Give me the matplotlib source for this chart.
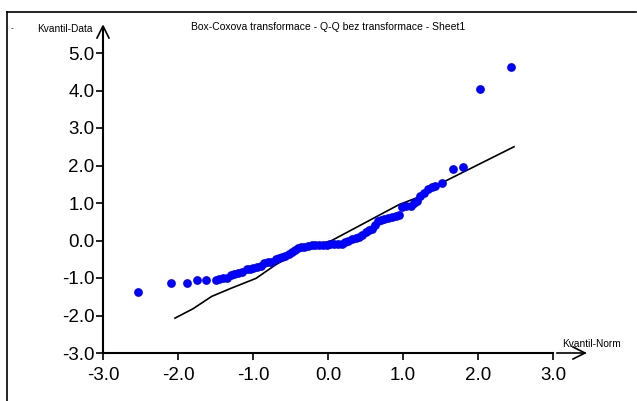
import matplotlib
matplotlib.use('Agg')
import matplotlib.pyplot as plt
from matplotlib.lines import Line2D

# === DATOS ===
kvantil_norm = [-2.53, -2.10, -1.88, -1.75, -1.63, -1.50, -1.45, -1.40, -1.35, -1.29,
                -1.25, -1.20, -1.15, -1.08, -1.04, -1.00, -0.95, -0.90, -0.85, -0.80,
                -0.76, -0.70, -0.65, -0.61, -0.57, -0.52, -0.48, -0.44, -0.40, -0.36,
                -0.32, -0.27, -0.22, -0.17, -0.12, -0.07, -0.02, 0.03, 0.08, 0.13,
                0.18, 0.23, 0.27, 0.32, 0.37, 0.41, 0.45, 0.50, 0.54, 0.58,
                0.62, 0.66, 0.70, 0.75, 0.80, 0.85, 0.90, 0.95, 0.99, 1.04,
                1.10, 1.14, 1.18, 1.23, 1.28, 1.33, 1.38, 1.43, 1.52, 1.67,
                1.80, 2.02, 2.44]
kvantil_data = [-1.38, -1.12, -1.12, -1.06, -1.06, -1.05, -1.02, -1.00, -1.00, -0.93,
                -0.90, -0.87, -0.85, -0.75, -0.75, -0.74, -0.70, -0.68, -0.60, -0.58,
                -0.57, -0.50, -0.46, -0.43, -0.40, -0.35, -0.31, -0.25, -0.21, -0.18,
                -0.16, -0.14, -0.13, -0.12, -0.12, -0.12, -0.11, -0.09, -0.09, -0.10,
                -0.08, -0.04, -0.01, 0.03, 0.07, 0.10, 0.15, 0.23, 0.29, 0.32,
                0.42, 0.51, 0.55, 0.58, 0.60, 0.63, 0.66, 0.69, 0.90, 0.91,
                0.93, 1.00, 1.06, 1.20, 1.27, 1.38, 1.42, 1.45, 1.54, 1.91,
                1.97, 4.04, 4.63]

linea_x = [-2.04, -1.80, -1.55, -1.30, -0.96, -0.70, -0.39, -0.15, 0.05, 0.50,
           0.95, 1.20, 1.50, 2.00, 2.48]
linea_y = [-2.07, -1.82, -1.49, -1.28, -1.01, -0.65, -0.29, -0.12, 0.00, 0.48,
           0.96, 1.15, 1.52, 2.02, 2.50]

ticks_x = [-3.0, -2.0, -1.0, 0.0, 1.0, 2.0, 3.0]
ticks_y = [-3.0, -2.0, -1.0, 0.0, 1.0, 2.0, 3.0, 4.0, 5.0]

W, H = 637, 401
plt.rcParams['font.family'] = ['Liberation Sans', 'DejaVu Sans']

fig = plt.figure(figsize=(W / 100, H / 100), dpi=100)

def px(x, y):
    return x / W, 1 - y / H

# marco exterior
fig.add_artist(Line2D([7 / W, 7 / W], [0, 1 - 12 / H], transform=fig.transFigure, color='black', lw=1.2))
fig.add_artist(Line2D([7 / W, 636 / W], [1 - 12 / H, 1 - 12 / H], transform=fig.transFigure, color='black', lw=1.2))

ax = fig.add_axes([103 / W, 48 / H, 450 / W, 300 / H])
ax.set_xlim(-3, 3)
ax.set_ylim(-3, 5)

ax.plot(linea_x, linea_y, color='black', lw=1.2, zorder=2)
ax.plot(kvantil_norm, kvantil_data, 'o', color='#0000ff', markersize=6.3, markeredgewidth=0, zorder=3)

for lado in ['top', 'right']:
    ax.spines[lado].set_visible(False)
for lado in ['left', 'bottom']:
    ax.spines[lado].set_linewidth(1.5)

ax.set_xticks(ticks_x)
ax.set_yticks(ticks_y)
ax.set_xticklabels([f'{t:.1f}' for t in ticks_x], fontsize=13.5)
ax.set_yticklabels([f'{t:.1f}' for t in ticks_y], fontsize=13.5)
ax.tick_params(axis='both', direction='out', length=5, width=1.2, pad=1)
ax.tick_params(axis='x', pad=5)

# flechas de los ejes
fig.add_artist(Line2D([103 / W, 103 / W], [1 - 53 / H, 1 - 27 / H], transform=fig.transFigure, color='black', lw=1.5))
fig.add_artist(Line2D([97 / W, 103 / W, 109 / W], [1 - 38 / H, 1 - 26 / H, 1 - 38 / H], transform=fig.transFigure, color='black', lw=1.2))
fig.add_artist(Line2D([557 / W, 585 / W], [1 - 353 / H, 1 - 353 / H], transform=fig.transFigure, color='black', lw=1.2))
fig.add_artist(Line2D([573 / W, 585 / W, 573 / W], [1 - 347 / H, 1 - 353 / H, 1 - 359 / H], transform=fig.transFigure, color='black', lw=1.2))

# textos
fig.text(*px(328, 27), 'Box-Coxova transformace - Q-Q bez transformace - Sheet1', fontsize=7.5, ha='center', va='center')
fig.text(*px(37, 29), 'Kvantil-Data', fontsize=7.3, ha='left', va='center')
fig.text(*px(562, 344), 'Kvantil-Norm', fontsize=7.3, ha='left', va='center')
fig.text(*px(12, 29), '-', fontsize=6, ha='center', va='center')

fig.savefig('out.png', dpi=100)
